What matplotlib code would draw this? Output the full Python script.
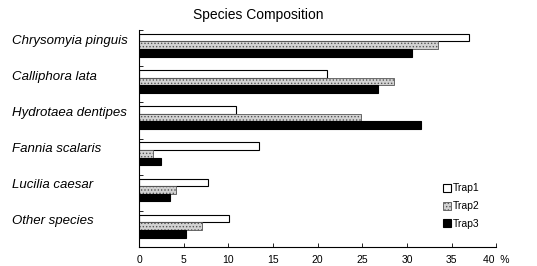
import matplotlib
matplotlib.use("Agg")
import matplotlib.pyplot as plt
import matplotlib.transforms as mtransforms
import numpy as np

species = ["Chrysomyia pinguis", "Calliphora lata", "Hydrotaea dentipes",
           "Fannia scalaris", "Lucilia caesar", "Other species"]
trap1 = [37.0, 21.0, 10.8, 13.4, 7.7, 10.1]
trap2 = [33.5, 28.6, 24.9, 1.6, 4.1, 7.1]
trap3 = [30.6, 26.8, 31.6, 2.4, 3.5, 5.2]
xticks = [0, 5, 10, 15, 20, 25, 30, 35, 40]

plt.rcParams['font.family'] = ['Liberation Sans', 'DejaVu Sans']
plt.rcParams['hatch.color'] = '#7a7a7a'
plt.rcParams['hatch.linewidth'] = 0.6

fig = plt.figure(figsize=(5.37, 2.66), dpi=100)
ax = fig.add_axes([0.259, 0.071, 0.665, 0.816])

y = np.arange(len(species))
h = 0.21
ax.barh(y + 0.21, trap1, height=h, color='white', edgecolor='black', linewidth=0.8, label='Trap1')
ax.barh(y + 0.42, trap2, height=h, color='#d2d2d2', edgecolor='#555555', linewidth=0.6,
        hatch='.....', label='Trap2')
ax.barh(y + 0.63, trap3, height=h, color='black', edgecolor='black', linewidth=0.8, label='Trap3')

ax.set_ylim(len(species), 0)
ax.set_xlim(0, 40)
ax.set_yticks([])
ax.set_yticks(list(y), minor=True)
ax.tick_params(axis='y', which='minor', direction='in', length=3, width=0.6)

# species names, left aligned near the figure edge
trans = mtransforms.blended_transform_factory(fig.transFigure, ax.transData)
for i, name in enumerate(species):
    ax.text(0.022, i + 0.29, name, transform=trans, fontstyle='italic', fontsize=9.5,
            ha='left', va='center')

ax.set_xticks(xticks)
labels = [str(t) for t in xticks]
labels[-1] = labels[-1] + '  %'
ax.set_xticklabels(labels, fontsize=7.5)
ax.tick_params(axis='x', direction='in', length=3, width=0.6, pad=6)

for s in ['top', 'right']:
    ax.spines[s].set_visible(False)
for s in ['left', 'bottom']:
    ax.spines[s].set_linewidth(0.8)

ax.set_title('Species Composition', fontsize=10, pad=8, x=0.333)

ax.legend(loc='lower left', bbox_to_anchor=(0.83, 0.05), frameon=False, fontsize=7.5,
          handlelength=0.8, handleheight=0.8, handletextpad=0.2, labelspacing=0.75,
          borderpad=0.2)

fig.savefig('out.png', dpi=100)
